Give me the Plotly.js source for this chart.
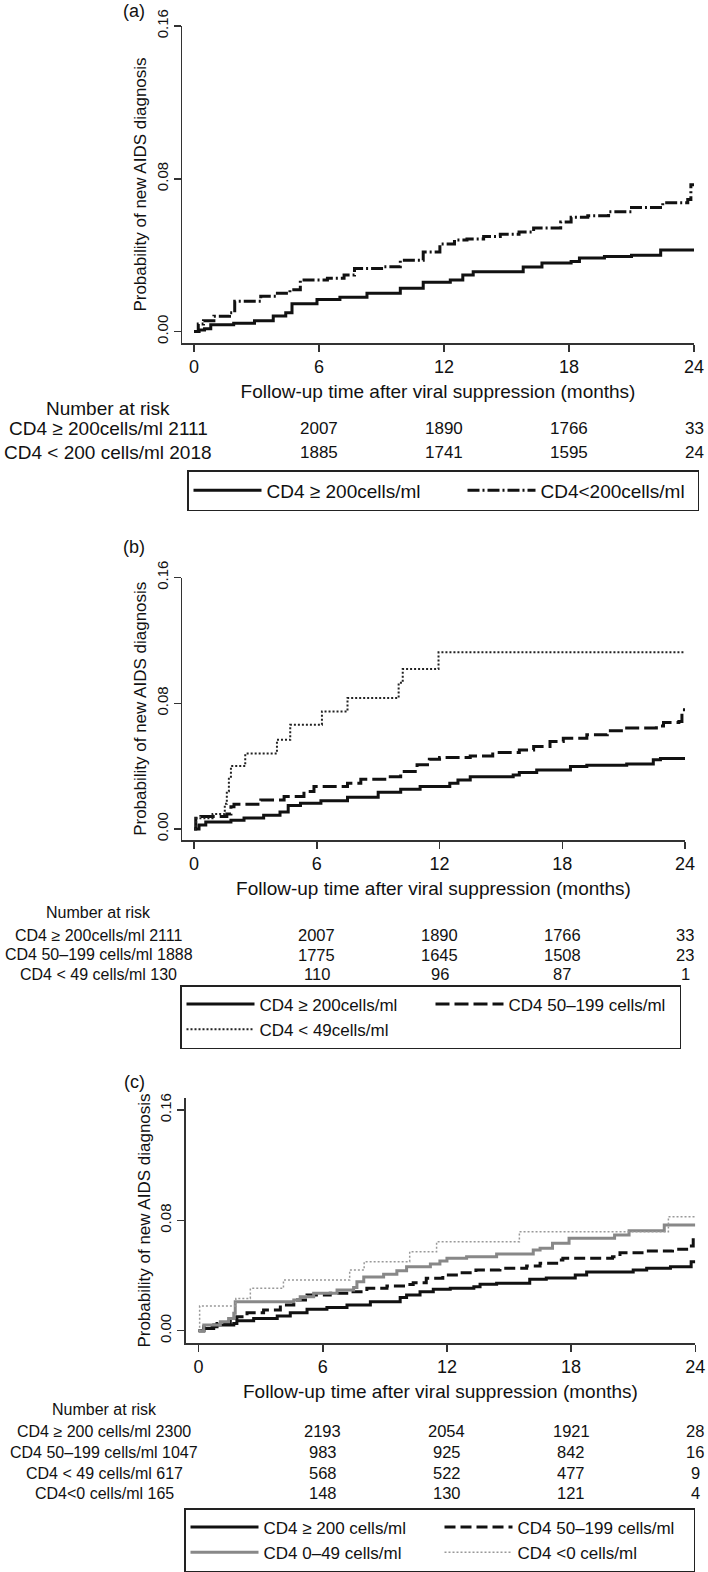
<!DOCTYPE html>
<html>
<head>
<meta charset="utf-8">
<script src="https://cdn.plot.ly/plotly-3.0.1.min.js"></script>
<style>
html,body{margin:0;padding:0;background:#fff;}
#chart{width:708px;height:1572px;}
</style>
</head>
<body>
<div id="chart"></div>
<script>
// ---------------- DATA ----------------
// Panel (a)
const a_hi_t = [0, 0.24, 0.5, 0.8, 1.9, 2.9, 3.8, 4.4, 4.7, 5.9, 7.0, 8.3, 9.9, 11.0, 12.3, 12.9, 13.4, 15.8, 16.7, 18.1, 18.5, 19.7, 21.0, 22.4, 24];
const a_hi_p = [0, 0.0008, 0.0014, 0.0036, 0.0043, 0.0056, 0.0082, 0.0099, 0.0145, 0.0168, 0.018, 0.020, 0.0227, 0.0258, 0.027, 0.0296, 0.0313, 0.0338, 0.0359, 0.0367, 0.0385, 0.0393, 0.040, 0.0427, 0.0427];
const a_lo_t = [0, 0.2, 0.45, 0.95, 1.7, 1.95, 3.2, 4.0, 4.6, 5.1, 6.4, 7.2, 7.7, 9.0, 9.9, 11.0, 11.8, 12.5, 13.1, 13.9, 14.7, 15.6, 16.3, 17.6, 18.1, 18.9, 19.9, 21.0, 22.5, 23.7, 23.85, 24];
const a_lo_p = [0, 0.0039, 0.0056, 0.008, 0.0099, 0.0159, 0.0185, 0.020, 0.0219, 0.027, 0.0279, 0.0296, 0.033, 0.0339, 0.0373, 0.0416, 0.0458, 0.048, 0.0484, 0.0498, 0.051, 0.0521, 0.0542, 0.0573, 0.0598, 0.0607, 0.0627, 0.065, 0.0675, 0.0692, 0.0769, 0.0769];
const a_names = ["CD4 \u2265 200cells/ml", "CD4<200cells/ml"];
const a_riskLabels = ["CD4 \u2265 200cells/ml 2111", "CD4 < 200 cells/ml 2018"];
const a_risk_hi = [2007, 1890, 1766, 33];
const a_risk_lo = [1885, 1741, 1595, 24];

// Panel (b)
const b_hi_t = [0, 0.24, 0.57, 1.8, 2.44, 3.4, 4.2, 4.6, 5.2, 6.2, 7.5, 9.0, 10.1, 11.05, 12.5, 12.9, 13.5, 15.6, 15.9, 16.75, 18.4, 19.2, 21.15, 22.45, 22.8, 24];
const b_hi_p = [0, 0.0025, 0.0045, 0.0055, 0.007, 0.0087, 0.0108, 0.015, 0.0164, 0.018, 0.0202, 0.0233, 0.0253, 0.027, 0.0291, 0.0312, 0.0333, 0.0344, 0.0359, 0.0376, 0.0397, 0.0406, 0.0414, 0.044, 0.0448, 0.0448];
const b_mid_t = [0, 0.08, 0.33, 1.6, 1.8, 1.95, 3.26, 4.4, 5.37, 5.86, 7.5, 8.15, 9.45, 10.1, 10.9, 11.5, 12.0, 13.5, 14.6, 15.9, 16.6, 17.4, 18.05, 19.2, 20.2, 21.0, 22.6, 22.95, 23.7, 23.85, 24];
const b_mid_p = [0, 0.0068, 0.0079, 0.0096, 0.0142, 0.0157, 0.0185, 0.0206, 0.0238, 0.027, 0.0291, 0.0317, 0.0333, 0.0365, 0.0408, 0.0444, 0.0455, 0.0465, 0.0486, 0.0503, 0.0525, 0.0557, 0.0578, 0.0599, 0.0625, 0.0642, 0.0656, 0.0678, 0.0684, 0.0758, 0.0758];
const b_lo_t = [0, 0.1, 0.9, 1.5, 1.6, 1.7, 1.8, 2.5, 4.05, 4.7, 6.25, 7.5, 10.0, 10.2, 11.95, 24];
const b_lo_p = [0, 0.0068, 0.0095, 0.016, 0.024, 0.032, 0.040, 0.048, 0.0567, 0.0663, 0.0748, 0.0833, 0.093, 0.1018, 0.1124, 0.1124];
const b_names = ["CD4 \u2265 200cells/ml", "CD4 50\u2013199 cells/ml", "CD4 < 49cells/ml"];
const b_riskLabels = ["CD4 \u2265 200cells/ml 2111", "CD4 50\u2013199 cells/ml 1888", "CD4 < 49 cells/ml 130"];
const b_risk_hi = [2007, 1890, 1766, 33];
const b_risk_mid = [1775, 1645, 1508, 23];
const b_risk_lo = [110, 96, 87, 1];

// Panel (c)
const c_hi_t = [0, 0.25, 0.73, 1.7, 1.85, 2.66, 3.8, 4.43, 5.24, 6.2, 7.17, 8.3, 9.74, 10.05, 10.7, 11.34, 12.16, 13.3, 13.6, 14.4, 16.0, 16.8, 18.2, 18.75, 21.0, 21.65, 22.8, 23.8, 24];
const c_hi_p = [0, 0.0017, 0.0041, 0.0053, 0.0073, 0.0089, 0.0106, 0.013, 0.0155, 0.0169, 0.0186, 0.021, 0.024, 0.0259, 0.0283, 0.030, 0.0308, 0.0318, 0.0336, 0.0345, 0.0373, 0.0382, 0.0404, 0.0426, 0.044, 0.0452, 0.0464, 0.050, 0.050];
const c_mid_t = [0, 0.25, 0.89, 1.53, 1.85, 2.34, 3.14, 3.95, 4.6, 5.24, 6.36, 7.33, 8.13, 9.1, 9.9, 10.37, 11.0, 11.8, 12.6, 13.4, 14.56, 15.85, 16.5, 17.3, 17.6, 20.0, 20.36, 21.65, 22.9, 23.58, 23.9, 24];
const c_mid_p = [0, 0.0029, 0.0053, 0.0077, 0.0102, 0.013, 0.015, 0.0186, 0.0222, 0.0259, 0.0271, 0.0283, 0.0307, 0.0324, 0.0335, 0.0348, 0.038, 0.0404, 0.042, 0.044, 0.0452, 0.047, 0.0489, 0.0513, 0.0525, 0.0537, 0.0566, 0.0578, 0.059, 0.0614, 0.0682, 0.0682];
const c_low_t = [0, 0.25, 1.05, 1.45, 1.7, 1.77, 4.45, 4.6, 4.91, 5.56, 6.69, 7.49, 7.65, 7.98, 8.94, 9.58, 10.05, 11.2, 11.66, 12.0, 12.95, 14.4, 16.17, 16.5, 17.1, 17.9, 20.1, 20.8, 22.5, 24];
const c_low_p = [0, 0.0041, 0.0065, 0.0089, 0.0126, 0.021, 0.021, 0.0222, 0.0247, 0.0271, 0.0295, 0.0314, 0.0355, 0.039, 0.041, 0.0435, 0.0464, 0.0484, 0.0505, 0.0525, 0.0537, 0.0556, 0.0585, 0.0597, 0.0634, 0.067, 0.0694, 0.0725, 0.0766, 0.0766];
const c_neg_t = [0, 0.05, 1.8, 2.5, 4.1, 7.3, 8.0, 10.2, 11.5, 15.5, 22.7, 24];
const c_neg_p = [0, 0.0179, 0.0234, 0.0307, 0.0367, 0.044, 0.050, 0.0573, 0.0645, 0.0718, 0.0827, 0.0827];
const c_names = ["CD4 \u2265 200 cells/ml", "CD4 50\u2013199 cells/ml", "CD4 0\u201349 cells/ml", "CD4 <0 cells/ml"];
const c_riskLabels = ["CD4 \u2265 200 cells/ml 2300", "CD4 50\u2013199 cells/ml 1047", "CD4 < 49 cells/ml 617", "CD4<0 cells/ml 165"];
const c_risk_hi = [2193, 2054, 1921, 28];
const c_risk_mid = [983, 925, 842, 16];
const c_risk_low = [568, 522, 477, 9];
const c_risk_neg = [148, 130, 121, 4];

const riskTimes = [6, 12, 18, 24];
const xTicks = [0, 6, 12, 18, 24];
const yTicks = [0, 0.08, 0.16];
const yTickText = ["0.00", "0.08", "0.16"];
const panelLabels = ["(a)", "(b)", "(c)"];
const xTitle = "Follow-up time after viral suppression (months)";
const yTitle = "Probability of new AIDS diagnosis";
const riskTitle = "Number at risk";

// ---------------- LAYOUT HELPERS ----------------
const W = 708, H = 1572;
const FONT = "Liberation Sans, Arial, Helvetica, sans-serif";
const INK = "#111";
const px = v => v / W;
const py = v => 1 - v / H;

function km(x, y, name, xa, ya, legend, lw, line) {
  return {type: "scatter", mode: "lines", x: x, y: y, name: name,
          xaxis: xa, yaxis: ya, legend: legend, legendwidth: lw, hoverinfo: "skip",
          line: Object.assign({shape: "hv"}, line)};
}

const SOLID = {color: "#111", width: 3};
const traces = [
  km(a_hi_t, a_hi_p, a_names[0], "x", "y", "legend", 191, SOLID),
  km(a_lo_t, a_lo_p, a_names[1], "x", "y", "legend", 152, {color: "#111", width: 3, dash: "12px,3px,2px,3px"}),
  km(b_hi_t, b_hi_p, b_names[0], "x2", "y2", "legend2", 166, SOLID),
  km(b_mid_t, b_mid_p, b_names[1], "x2", "y2", "legend2", 166, {color: "#111", width: 3, dash: "14px,5px"}),
  km(b_lo_t, b_lo_p, b_names[2], "x2", "y2", "legend2", 166, {color: "#222", width: 2, dash: "2px,2px"}),
  km(c_hi_t, c_hi_p, c_names[0], "x3", "y3", "legend3", 171, SOLID),
  km(c_mid_t, c_mid_p, c_names[1], "x3", "y3", "legend3", 171, {color: "#111", width: 3, dash: "11px,5px"}),
  km(c_low_t, c_low_p, c_names[2], "x3", "y3", "legend3", 171, {color: "#888", width: 3}),
  km(c_neg_t, c_neg_p, c_names[3], "x3", "y3", "legend3", 171, {color: "#999", width: 1.5, dash: "2px,2px"})
];

function xAxis(domainPx, range, yname) {
  return {domain: [px(domainPx[0]), px(domainPx[1])], range: range, anchor: yname,
    tickvals: xTicks, ticks: "outside", ticklen: 7, tickwidth: 1.5, tickcolor: "#333",
    showline: true, linecolor: "#333", linewidth: 1.5, showgrid: false, zeroline: false,
    tickfont: {family: FONT, size: 18, color: INK}, automargin: false, fixedrange: true,
    title: {text: xTitle, font: {family: FONT, size: 19, color: INK}, standoff: 8}};
}
function yAxis(domainPx, range, xname) {
  return {domain: [py(domainPx[1]), py(domainPx[0])], range: range, anchor: xname,
    tickvals: yTicks, ticktext: yTickText, tickangle: -90,
    ticks: "outside", ticklen: 7, tickwidth: 1.5, tickcolor: "#333",
    showline: true, linecolor: "#333", linewidth: 1.5, showgrid: false, zeroline: false,
    tickfont: {family: FONT, size: 15, color: INK}, automargin: false, fixedrange: true,
    title: {text: yTitle, font: {family: FONT, size: 17, color: INK}, standoff: 2}};
}

function legendBox(xPx, yPx, fontSize) {
  return {x: px(xPx), y: py(yPx), xanchor: "left", yanchor: "top", orientation: "h",
    bordercolor: "#222", borderwidth: 1.5, bgcolor: "#fff",
    font: {family: FONT, size: fontSize, color: INK},
    itemwidth: 68, entrywidthmode: "pixels",
    itemclick: false, itemdoubleclick: false, traceorder: "normal"};
}

const annotations = [];
function txt(x, y, text, size, opts) {
  annotations.push(Object.assign({x: x, y: y, xref: "paper", yref: "paper", text: text,
    showarrow: false, xanchor: "center", yanchor: "middle",
    font: {family: FONT, size: size, color: INK}}, opts || {}));
}
function riskTable(xref, labelCx, titleY, rowYs, labels, rows, labSize, numSize) {
  txt(px(labelCx), py(titleY), riskTitle, labSize);
  labels.forEach((lab, i) => {
    txt(px(labelCx), py(rowYs[i]), lab, labSize);
    rows[i].forEach((v, j) => {
      txt(riskTimes[j], py(rowYs[i]), String(v), numSize, {xref: xref});
    });
  });
}

// panel labels
txt(px(134), py(11), panelLabels[0], 18);
txt(px(134), py(547), panelLabels[1], 18);
txt(px(134), py(1082), panelLabels[2], 18);

riskTable("x", 108, 409, [428, 452], a_riskLabels, [a_risk_hi, a_risk_lo], 19, 17);
riskTable("x2", 99, 912, [935, 955, 974], b_riskLabels, [b_risk_hi, b_risk_mid, b_risk_lo], 16, 16.5);
riskTable("x3", 104, 1409, [1431, 1452, 1473, 1493], c_riskLabels, [c_risk_hi, c_risk_mid, c_risk_low, c_risk_neg], 16, 16.5);

const layout = {
  width: W, height: H,
  margin: {l: 0, r: 0, t: 0, b: 0, pad: 0, autoexpand: false},
  paper_bgcolor: "#fff", plot_bgcolor: "#fff",
  font: {family: FONT, size: 19, color: INK},
  showlegend: true,
  xaxis: xAxis([182, 694], [-0.581, 24], "y"),
  yaxis: yAxis([26, 343], [-0.006, 0.16], "x"),
  xaxis2: xAxis([182, 685], [-0.592, 24], "y2"),
  yaxis2: yAxis([577.5, 840], [-0.007, 0.16], "x2"),
  xaxis3: xAxis([185.6, 695.3], [-0.628, 24], "y3"),
  yaxis3: yAxis([1098, 1343], [-0.0089, 0.1687], "x3"),
  legend: legendBox(187, 470, 19),
  legend2: legendBox(180, 985, 17),
  legend3: legendBox(184, 1508, 17),
  annotations: annotations
};

Plotly.newPlot("chart", traces, layout, {staticPlot: true, displayModeBar: false});
</script>
</body>
</html>
